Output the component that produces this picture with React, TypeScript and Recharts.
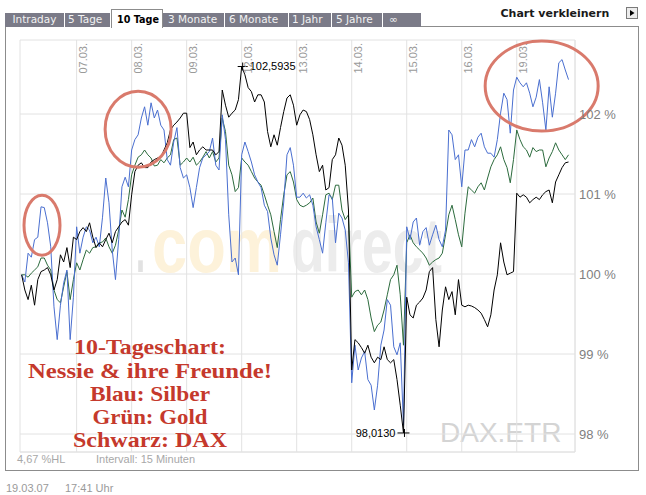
import React from 'react';
import { LineChart, Line, XAxis, YAxis, CartesianGrid, ReferenceLine, ReferenceDot } from 'recharts';

// ---------- data ----------
const dayLabels = ['06.03.', '07.03.', '08.03.', '09.03.', '12.03.', '13.03.', '14.03.', '15.03.', '16.03.', '19.03.'];
const POINTS_PER_DAY = 17;

// Blau: Silber (in % of start value)
const silber = [
  99.99, 99.90, 100.26, 100.21, 100.43, 100.46, 100.84, 100.83, 100.64, 100.34, 99.59, 99.18, 99.61, 99.89, 100.05, 99.18, 99.71,
  100.59, 100.26, 100.46, 100.59, 100.55, 100.39, 100.46, 100.34, 100.71, 101.20, 100.89, 100.30, 99.93, 100.43, 101.09, 101.21, 101.09,
  101.55, 101.68, 101.74, 101.95, 102.09, 101.86, 102.14, 101.95, 102.05, 101.86, 101.80, 101.43, 101.36, 101.65, 101.83, 101.33, 101.20,
  101.24, 101.08, 100.83, 101.08, 101.33, 101.45, 101.49, 101.53, 101.70, 101.36, 101.30, 101.99, 101.68, 100.74, 100.15, 100.20, 99.99,
  101.49, 101.65, 101.53, 101.40, 101.24, 101.15, 101.08, 100.86, 100.78, 100.45, 100.24, 100.11, 100.49, 100.90, 101.49, 101.58, 101.36,
  100.96, 100.96, 101.01, 100.95, 100.99, 100.86, 100.59, 100.43, 100.26, 100.64, 100.99, 100.95, 100.39, 100.76, 100.70, 100.55, 100.14,
  98.64, 99.11, 98.80, 98.95, 99.03, 98.68, 98.61, 98.30, 98.61, 99.11, 99.30, 99.68, 99.61, 99.09, 98.99, 99.14, 98.11,
  100.59, 100.43, 100.65, 100.70, 100.36, 100.53, 100.58, 100.36, 100.49, 100.61, 100.43, 100.34, 100.55, 101.80, 101.74, 101.43, 101.49,
  101.09, 101.55, 101.55, 101.68, 101.59, 101.71, 101.76, 101.59, 101.51, 101.51, 101.46, 101.68, 102.01, 102.26, 102.18, 101.76, 102.30,
  102.46, 102.39, 102.34, 102.39, 102.26, 102.09, 102.21, 102.43, 102.14, 101.80, 102.34, 101.96, 102.26, 102.64, 102.68, 102.55, 102.43,
];

// Grün: Gold
const gold = [
  99.99, 99.99, 99.96, 100.01, 100.05, 100.09, 100.20, 100.20, 100.11, 100.05, 99.80, 99.68, 99.64, 99.84, 100.03, 99.68, 99.93,
  100.14, 100.05, 100.18, 100.30, 100.26, 100.33, 100.34, 100.39, 100.40, 100.45, 100.34, 100.26, 100.36, 100.55, 100.80, 100.71, 100.93,
  101.24, 101.36, 101.46, 101.49, 101.55, 101.49, 101.45, 101.35, 101.36, 101.43, 101.39, 101.45, 101.49, 101.68, 101.70, 101.36, 101.40,
  101.45, 101.40, 101.46, 101.36, 101.40, 101.46, 101.53, 101.45, 101.53, 101.40, 101.45, 101.95, 101.78, 101.36, 101.24, 101.03, 101.08,
  101.45, 101.40, 101.36, 101.28, 101.20, 101.15, 101.11, 100.99, 100.86, 100.74, 100.53, 100.33, 100.68, 100.99, 101.24, 101.28, 101.15,
  100.93, 100.86, 100.84, 100.86, 100.89, 100.95, 100.65, 100.51, 100.74, 100.99, 101.01, 100.93, 101.11, 101.11, 100.80, 100.68, 100.74,
  99.71, 99.78, 99.80, 99.74, 99.80, 99.68, 99.45, 99.28, 99.36, 99.40, 99.55, 99.74, 99.93, 99.99, 100.11, 99.74, 99.11,
  100.39, 100.49, 100.39, 100.34, 100.30, 100.26, 100.20, 100.11, 100.15, 100.18, 100.20, 100.26, 100.49, 100.74, 100.86, 100.68, 100.49,
  100.34, 100.76, 101.09, 101.05, 101.01, 101.09, 101.14, 101.05, 101.20, 101.34, 101.43, 101.49, 101.59, 101.43, 101.33, 101.14, 101.43,
  101.80, 101.68, 101.59, 101.55, 101.46, 101.58, 101.53, 101.55, 101.55, 101.34, 101.45, 101.53, 101.64, 101.55, 101.49, 101.43, 101.49,
];

// Schwarz: DAX
const dax = [
  99.99, 99.80, 99.68, 99.86, 99.61, 99.93, 100.03, 100.05, 100.08, 99.99, 99.80, 99.93, 100.24, 100.15, 100.33, 100.08, 100.46,
  100.43, 100.53, 100.58, 100.53, 100.64, 100.46, 100.33, 100.39, 100.34, 100.43, 100.51, 100.39, 100.53, 100.59, 100.65, 100.68, 100.61,
  100.99, 101.28, 101.36, 101.39, 101.33, 101.33, 101.40, 101.43, 101.45, 101.46, 101.55, 101.64, 101.80, 101.86, 101.90, 101.95, 102.01,
  102.01, 101.58, 101.65, 101.49, 101.55, 101.59, 101.55, 101.55, 101.55, 101.49, 101.53, 102.30, 102.11, 101.96, 102.01, 102.05, 102.18,
  102.5935, 102.49, 102.33, 102.28, 102.15, 102.24, 102.24, 102.15, 101.78, 101.59, 101.74, 101.61, 101.83, 102.03, 102.20, 102.24, 102.11,
  101.86, 101.99, 102.05, 102.03, 101.93, 101.74, 101.49, 101.28, 101.36, 101.05, 101.08, 101.43, 101.49, 101.70, 101.61, 101.36, 100.80,
  98.80, 99.18, 99.14, 99.08, 99.01, 99.11, 98.96, 98.89, 98.96, 98.93, 99.09, 98.93, 98.89, 98.93, 98.68, 98.36, 98.013,
  99.71, 99.49, 99.45, 99.61, 99.65, 99.70, 99.80, 100.03, 100.08, 99.43, 99.09, 99.55, 99.84, 99.68, 99.78, 99.49, 99.93,
  99.61, 99.59, 99.61, 99.60, 99.58, 99.55, 99.51, 99.43, 99.34, 99.49, 99.80, 99.99, 100.39, 100.15, 99.99, 100.01, 100.03,
  101.01, 100.96, 100.99, 100.96, 100.89, 100.93, 100.96, 100.93, 100.99, 101.03, 101.05, 100.89, 101.15, 101.24, 101.33, 101.39, 101.40,
];

const yTicks = [98, 99, 100, 101, 102];
const Y_MIN = 97.775;
const Y_MAX = 102.925;
const X_MIN = -0.5;
const X_MAX = 171;

// annotation ellipses (data coordinates of centre)
const circles = [
  { x: 6.3, y: 100.61, rx: 18, ry: 30 },
  { x: 36.0, y: 101.81, rx: 33, ry: 38 },
  { x: 160.7, y: 102.35, rx: 56.5, ry: 45 },
];

const noteLines = [
  { text: '10-Tageschart:', y: 354, w: 152 },
  { text: 'Nessie & ihre Freunde!', y: 378, w: 244 },
  { text: 'Blau: Silber', y: 401, w: 120 },
  { text: 'Grün: Gold', y: 424, w: 115 },
  { text: 'Schwarz: DAX', y: 447, w: 154 },
];

const watermark = [
  { text: '.', x: 136, w: 9, fill: '#e2e2e2' },
  { text: 'com', x: 152, w: 130, fill: '#fdf2da' },
  { text: 'direct', x: 291, w: 151, fill: '#ececec' },
];

const tabs = [
  { label: 'Intraday', x: 12.5 },
  { label: '5 Tage', x: 68 },
  { label: '3 Monate', x: 168 },
  { label: '6 Monate', x: 229 },
  { label: '1 Jahr', x: 292 },
  { label: '5 Jahre', x: 336 },
  { label: '∞', x: 389 },
];
const tabSeparators = [64.5, 110.5, 224.5, 288.5, 331.5, 382.5];

// ---------- derived ----------
const rows = silber.map((v, i) => ({ i, silber: v, gold: gold[i], dax: dax[i] }));
const xTicks = dayLabels.slice(1).map((_, k) => (k + 1) * POINTS_PER_DAY);

const daxMax = Math.max(...dax);
const daxMin = Math.min(...dax);
const daxMaxIdx = dax.indexOf(daxMax);
const daxMinIdx = dax.indexOf(daxMin);
const fmt = (v: number, d: number) => v.toFixed(d).replace('.', ',');
const hl = ((daxMax - daxMin) / daxMin) * 100;

const SANS = '"Liberation Sans", Arial, sans-serif';
const VERD = '"DejaVu Sans", Verdana, sans-serif';
const SERIF = '"Liberation Serif", "Times New Roman", serif';

const DateTick = (props: any) => {
  const { x, y, payload } = props;
  const label = dayLabels[Math.round(payload.value / POINTS_PER_DAY)];
  const tx = x + 10;
  const ty = y + 3;
  return (
    <text x={tx} y={ty} transform={`rotate(-90 ${tx} ${ty})`} textAnchor="end" fontSize={11} fill="#9a9a9a" fontFamily={SANS}>
      {label}
    </text>
  );
};

const MaxMarker = (props: any) => {
  const { cx, cy } = props;
  return (
    <g>
      <line x1={cx - 4} x2={cx + 6} y1={cy} y2={cy} stroke="#000" strokeWidth={1} />
      <line x1={cx + 1} x2={cx + 1} y1={cy - 4} y2={cy + 4} stroke="#000" strokeWidth={1} />
      <text x={cx + 8} y={cy} dy="0.35em" fontSize={11} fontFamily={SANS} fill="#000">{fmt(daxMax, 4)}</text>
    </g>
  );
};

const MinMarker = (props: any) => {
  const { cx, cy } = props;
  return (
    <g>
      <line x1={cx - 6} x2={cx + 6} y1={cy} y2={cy} stroke="#000" strokeWidth={1} />
      <line x1={cx + 1} x2={cx + 1} y1={cy - 4} y2={cy + 4} stroke="#000" strokeWidth={1} />
      <text x={cx - 8} y={cy} dy="0.35em" textAnchor="end" fontSize={11} fontFamily={SANS} fill="#000">{fmt(daxMin, 4)}</text>
    </g>
  );
};

const makeEllipse = (rx: number, ry: number) => (props: any) => (
  <ellipse cx={props.cx} cy={props.cy} rx={rx} ry={ry} fill="none" stroke="#d97a6c" strokeWidth={3} />
);

export default function App() {
  return (
    <div style={{ position: 'absolute', left: 0, top: 0, width: 646, height: 495, background: '#fff', overflow: 'hidden' }}>
      {/* background: frame, tabs, watermark */}
      <svg width={646} height={495} style={{ position: 'absolute', left: 0, top: 0 }}>
        <rect x={5.5} y={26.5} width={633} height={444} fill="#fff" stroke="#8c8c8c" />
        <rect x={5} y={13} width={416} height={14} fill="#7b7b88" />
        {tabSeparators.map((sx) => (
          <line key={sx} x1={sx} x2={sx} y1={13} y2={27} stroke="#fff" strokeWidth={1} />
        ))}
        {tabs.map((t) => (
          <text key={t.label} x={t.x} y={22.5} fontSize={10.5} fontFamily={VERD} fill="#f2f2f2">{t.label}</text>
        ))}
        <rect x={111.5} y={9.5} width={51} height={18} fill="#fff" stroke="#8c8c8c" />
        <rect x={112} y={26} width={50} height={2} fill="#fff" />
        <text x={117} y={22.5} fontSize={10.5} fontWeight="bold" fontFamily={VERD} fill="#000" textLength={42} lengthAdjust="spacingAndGlyphs">10 Tage</text>
        <text x={500.5} y={17} fontSize={11} fontWeight="bold" fontFamily={VERD} fill="#1a1a1a">Chart verkleinern</text>
        <rect x={626.5} y={7.5} width={11} height={11} fill="#ececec" stroke="#7a7a7a" />
        <path d="M630 10 L634.5 13 L630 16 Z" fill="#000" />
        {watermark.map((w) => (
          <text key={w.text} x={w.x} y={272} fontSize={77} fontWeight="bold" fontFamily={SANS} fill={w.fill} textLength={w.w} lengthAdjust="spacingAndGlyphs">
            {w.text}
          </text>
        ))}
        <text x={440} y={442} fontSize={28} fontFamily={SANS} fill="#d4d4d4">DAX.ETR</text>
        <text x={17} y={463} fontSize={11} fontFamily={SANS} fill="#a8a8a8">{fmt(hl, 2)} %HL</text>
        <text x={96} y={463} fontSize={11} fontFamily={SANS} fill="#a8a8a8">Intervall: 15 Minuten</text>
        <text x={6} y={492} fontSize={11} fontFamily={SANS} fill="#9a9a9a">19.03.07</text>
        <text x={65} y={492} fontSize={11} fontFamily={SANS} fill="#9a9a9a">17:41 Uhr</text>
      </svg>

      <div style={{ position: 'absolute', left: 0, top: 0 }}>
        <LineChart width={646} height={495} data={rows} margin={{ top: 39, right: 11, bottom: 43, left: 20 }}>
          <CartesianGrid stroke="#e2e2e2" strokeWidth={1} />
          <XAxis
            dataKey="i"
            type="number"
            orientation="top"
            height={1}
            domain={[X_MIN, X_MAX]}
            ticks={xTicks}
            axisLine={false}
            tickLine={false}
            tickSize={0}
            tickMargin={0}
            tick={DateTick}
            interval={0}
            allowDataOverflow
          />
          <YAxis
            type="number"
            orientation="right"
            width={60}
            domain={[Y_MIN, Y_MAX]}
            ticks={yTicks}
            axisLine={false}
            tickLine={false}
            tickSize={2}
            tickMargin={2}
            interval={0}
            allowDataOverflow
            tickFormatter={(v: number) => `${v} %`}
            tick={{ fontSize: 13, fill: '#7f7f7f', fontFamily: SANS }}
          />
          <ReferenceLine y={Y_MIN} stroke="#e2e2e2" ifOverflow="extendDomain" />
          <ReferenceLine x={X_MAX} stroke="#e2e2e2" ifOverflow="extendDomain" />
          <Line type="linear" dataKey="gold" stroke="#2c6b3d" strokeWidth={1} dot={false} isAnimationActive={false} />
          <Line type="linear" dataKey="silber" stroke="#4a6fd0" strokeWidth={1} dot={false} isAnimationActive={false} />
          <Line type="linear" dataKey="dax" stroke="#000000" strokeWidth={1} dot={false} isAnimationActive={false} />
          <ReferenceDot x={daxMaxIdx} y={daxMax} r={0} shape={MaxMarker} ifOverflow="visible" />
          <ReferenceDot x={daxMinIdx} y={daxMin} r={0} shape={MinMarker} ifOverflow="visible" />
          {circles.map((c, k) => (
            <ReferenceDot key={k} x={c.x} y={c.y} r={0} shape={makeEllipse(c.rx, c.ry)} ifOverflow="visible" />
          ))}
        </LineChart>
      </div>

      {/* red note */}
      <svg width={646} height={495} style={{ position: 'absolute', left: 0, top: 0, pointerEvents: 'none' }}>
        {noteLines.map((l) => (
          <text key={l.text} x={150 - l.w / 2} y={l.y} fontSize={22} fontWeight="bold" fontFamily={SERIF} fill="#c5392c" textLength={l.w} lengthAdjust="spacingAndGlyphs">
            {l.text}
          </text>
        ))}
      </svg>
    </div>
  );
}
